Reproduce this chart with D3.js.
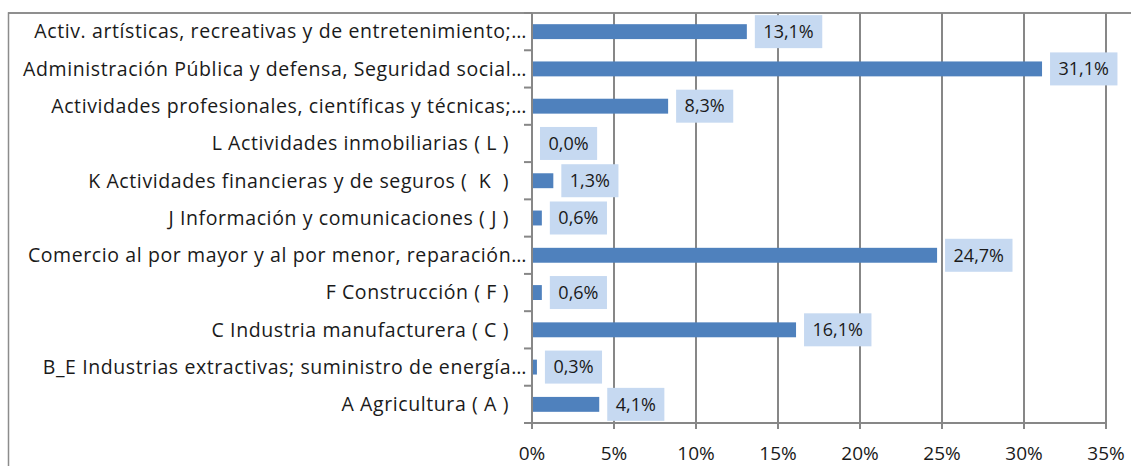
<!DOCTYPE html>
<html>
<head>
<meta charset="utf-8">
<script src="https://cdn.jsdelivr.net/npm/d3@7"></script>
<style>
  body { margin: 0; background: #fff; }
  text { font-family: "Open Sans", Lato, sans-serif; fill: #1a1a1a; white-space: pre; }
</style>
</head>
<body>
<div id="chart"></div>
<script>
// categories from top to bottom, as in the picture
const categories = [
    "Activ. artísticas, recreativas y de entretenimiento;…",
    "Administración Pública y defensa, Seguridad social…",
    "Actividades profesionales, científicas y técnicas;…",
    "L Actividades inmobiliarias ( L )",
    "K Actividades financieras y de seguros (  K  )",
    "J Información y comunicaciones ( J )",
    "Comercio al por mayor y al por menor, reparación…",
    "F Construcción ( F )",
    "C Industria manufacturera ( C )",
    "B_E Industrias extractivas; suministro de energía…",
    "A Agricultura ( A )"
];
const values = [13.1, 31.1, 8.3, 0.0, 1.3, 0.6, 24.7, 0.6, 16.1, 0.3, 4.1];
const xTicks = [0, 5, 10, 15, 20, 25, 30, 35];

const width = 1131, height = 466;
const margin = { top: 13, right: 25, bottom: 43, left: 532 };

const svg = d3.select('#chart').append('svg')
    .attr('width', width)
    .attr('height', height);

// outer chart border (right and bottom fall outside the picture)
svg.append('rect')
    .attr('x', 8.5).attr('y', 13)
    .attr('width', width + 20).attr('height', height + 20)
    .attr('fill', 'none')
    .attr('stroke', '#8c8c8c')
    .attr('stroke-width', 1.5);

const x = d3.scaleLinear()
    .domain([0, 35])
    .range([margin.left, width - margin.right]);

const cell = d3.scaleBand()
    .domain(categories)
    .range([margin.top, height - margin.bottom]);

const y = d3.scaleBand()
    .domain(categories)
    .range([margin.top, height - margin.bottom])
    .paddingInner(0.6)
    .paddingOuter(0.3);

const grid = '#878787';

// vertical gridlines
svg.append('g')
    .selectAll('line')
    .data(xTicks)
    .join('line')
    .attr('x1', d => x(d)).attr('x2', d => x(d))
    .attr('y1', margin.top).attr('y2', height - margin.bottom + 6)
    .attr('stroke', grid)
    .attr('stroke-width', 2);

// top line of plot area
svg.append('line')
    .attr('x1', 8).attr('x2', width)
    .attr('y1', margin.top).attr('y2', margin.top)
    .attr('stroke', grid).attr('stroke-width', 1.5);

// bottom axis line
svg.append('line')
    .attr('x1', x(0) - 8).attr('x2', x(35))
    .attr('y1', height - margin.bottom).attr('y2', height - margin.bottom)
    .attr('stroke', grid).attr('stroke-width', 2);

// category boundary ticks on the y axis
svg.append('g')
    .selectAll('line')
    .data(categories)
    .join('line')
    .attr('x1', x(0) - 8).attr('x2', x(0))
    .attr('y1', d => cell(d)).attr('y2', d => cell(d))
    .attr('stroke', grid).attr('stroke-width', 2);

// x tick labels
svg.append('g')
    .selectAll('text')
    .data(xTicks)
    .join('text')
    .attr('x', d => x(d))
    .attr('y', height - margin.bottom + 30)
    .attr('dy', '0.35em')
    .attr('text-anchor', 'middle')
    .style('font-size', '19px')
    .text(d => d + '%');

// category labels
svg.append('g')
    .selectAll('text')
    .data(categories)
    .join('text')
    .attr('x', d => x(0) - (d.endsWith('…') ? 5 : 23))
    .attr('y', d => cell(d) + cell.bandwidth() / 2)
    .attr('dy', '0.35em')
    .attr('text-anchor', 'end')
    .style('font-size', '19.5px')
    .style('letter-spacing', '0.6px')
    .text(d => d);

// bars
svg.append('g')
    .selectAll('rect')
    .data(values)
    .join('rect')
    .attr('x', x(0) + 1)
    .attr('y', (d, i) => y(categories[i]))
    .attr('width', d => Math.max(0, x(d) - x(0) - 1))
    .attr('height', y.bandwidth())
    .attr('fill', '#4f81bd');

// data labels with light blue boxes
const fmt = v => v.toFixed(1).replace('.', ',') + '%';
const labels = svg.append('g')
    .selectAll('g')
    .data(values)
    .join('g')
    .attr('transform', (d, i) => `translate(${x(d) + 8},${cell(categories[i]) + cell.bandwidth() / 2})`);

labels.append('rect').attr('class', 'box');
labels.append('text')
    .attr('dy', '0.35em')
    .style('font-size', '18px')
    .text(d => fmt(d));

labels.each(function () {
    const g = d3.select(this);
    const w = g.select('text').node().getComputedTextLength();
    g.select('text').attr('x', 8.5);
    g.select('rect')
        .attr('x', 0).attr('y', -16.5)
        .attr('width', w + 17).attr('height', 33)
        .attr('fill', '#c6d9f1');
});
</script>
</body>
</html>
